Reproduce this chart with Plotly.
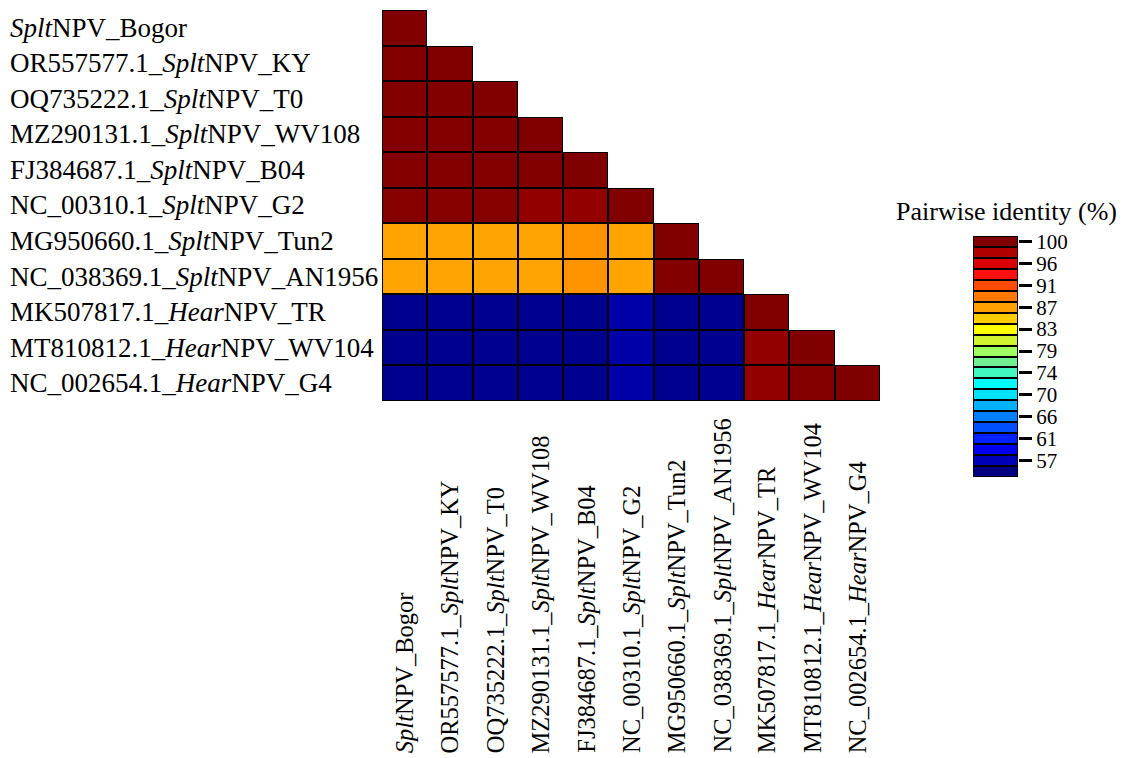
import plotly.graph_objects as go
import numpy as np

names = [
    "<i>Splt</i>NPV_Bogor",
    "OR557577.1_<i>Splt</i>NPV_KY",
    "OQ735222.1_<i>Splt</i>NPV_T0",
    "MZ290131.1_<i>Splt</i>NPV_WV108",
    "FJ384687.1_<i>Splt</i>NPV_B04",
    "NC_00310.1_<i>Splt</i>NPV_G2",
    "MG950660.1_<i>Splt</i>NPV_Tun2",
    "NC_038369.1_<i>Splt</i>NPV_AN1956",
    "MK507817.1_<i>Hear</i>NPV_TR",
    "MT810812.1_<i>Hear</i>NPV_WV104",
    "NC_002654.1_<i>Hear</i>NPV_G4",
]

# lower-triangle pairwise identity values (%), row by row
row0 = [100.0]
row1 = [99.9, 100.0]
row2 = [99.9, 99.9, 100.0]
row3 = [99.8, 99.8, 99.8, 100.0]
row4 = [99.8, 99.8, 99.8, 99.9, 100.0]
row5 = [99.7, 99.7, 99.7, 99.2, 99.2, 100.0]
row6 = [86.9, 86.9, 86.9, 86.9, 87.8, 86.9, 100.0]
row7 = [86.9, 86.9, 86.9, 86.9, 87.8, 86.9, 99.9, 100.0]
row8 = [55.4, 55.4, 55.4, 55.4, 55.4, 56.4, 55.4, 55.4, 100.0]
row9 = [55.4, 55.4, 55.4, 55.4, 55.4, 56.4, 55.4, 55.4, 99.2, 100.0]
row10 = [55.4, 55.4, 55.4, 55.4, 55.4, 56.4, 55.4, 55.4, 99.2, 99.8, 100.0]
rows = [row0, row1, row2, row3, row4, row5, row6, row7, row8, row9, row10]

# colour bar bands (bottom to top)
band_colors = ["#000080", "#0000b8", "#0000f0", "#0020ff", "#0050ff", "#0080ff",
               "#00b0ff", "#00e0ff", "#00ffff", "#40f8c0", "#70f090", "#a0ff60",
               "#d0f530", "#ffff00", "#ffcc00", "#ffa000", "#ff7800", "#ff4a00",
               "#ff1010", "#d80000", "#b00000", "#800000"]
band_min = 54.85
band_step = 2.15
tick_labels = ["57", "61", "66", "70", "74", "79", "83", "87", "91", "96", "100"]

n = len(names)
nb = len(band_colors)
band_centers = [band_min + k * band_step for k in range(nb)]
zmax = band_centers[-1]
cscale = [[k / (nb - 1), c] for k, c in enumerate(band_colors)]

Z = np.full((n, n), np.nan)
for i, r in enumerate(rows):
    for j, v in enumerate(r):
        Z[i, j] = v
mask = np.where(np.isnan(Z), np.nan, 1.0)

idx = list(range(n))
W, H = 1125, 758
font = "Liberation Serif, Times New Roman, serif"

fig = go.Figure()
fig.add_trace(go.Heatmap(z=mask, x=idx, y=idx, colorscale=[[0, "black"], [1, "black"]],
                         showscale=False, hoverinfo="skip", xaxis="x", yaxis="y"))
fig.add_trace(go.Heatmap(z=Z, x=idx, y=idx, colorscale=cscale, zmin=band_min, zmax=zmax,
                         xgap=2, ygap=2, showscale=False, xaxis="x", yaxis="y"))

# custom discrete colour bar
cb_z = [[c] for c in band_centers]
fig.add_trace(go.Heatmap(z=[[1]] * nb, x=[0], y=band_centers, colorscale=[[0, "black"], [1, "black"]],
                         showscale=False, hoverinfo="skip", xaxis="x2", yaxis="y2"))
fig.add_trace(go.Heatmap(z=cb_z, x=[0], y=band_centers, colorscale=cscale, zmin=band_min, zmax=zmax,
                         xgap=2, ygap=2, showscale=False, xaxis="x2", yaxis="y2"))

tick_vals = [band_centers[k] for k in range(1, nb, 2)]

ann = []
for i, nm in enumerate(names):
    ann.append(dict(text=nm, xref="paper", yref="y", x=8 / W, y=i, xanchor="left",
                    yanchor="middle", showarrow=False, font=dict(family=font, size=27, color="black")))
    ann.append(dict(text=nm, xref="x", yref="paper", x=i, y=3 / H, xanchor="center",
                    yanchor="bottom", textangle=-90, showarrow=False,
                    font=dict(family=font, size=24.5, color="black")))
ann.append(dict(text="Pairwise identity (%)", xref="paper", yref="paper", x=1006 / W, y=1 - 211 / H,
                xanchor="center", yanchor="middle", showarrow=False,
                font=dict(family=font, size=26, color="black")))

fig.update_layout(
    width=W, height=H, margin=dict(l=0, r=0, t=0, b=0, pad=0, autoexpand=False),
    paper_bgcolor="white", plot_bgcolor="white",
    xaxis=dict(domain=[382 / W, 880 / W], range=[-0.5, n - 0.5], showticklabels=False,
               showgrid=False, zeroline=False, ticks="", automargin=False),
    yaxis=dict(domain=[1 - 401 / H, 1 - 10 / H], range=[n - 0.5, -0.5], showticklabels=False,
               showgrid=False, zeroline=False, ticks="", automargin=False),
    xaxis2=dict(domain=[973 / W, 1018 / W], range=[-0.5, 0.5], showticklabels=False,
                showgrid=False, zeroline=False, ticks="", anchor="y2", automargin=False),
    yaxis2=dict(domain=[1 - 477 / H, 1 - 236 / H],
                range=[band_min - band_step / 2, zmax + band_step / 2],
                side="right", anchor="x2", showgrid=False, zeroline=False, automargin=False,
                ticks="outside", ticklen=13, tickwidth=3, tickcolor="black",
                tickvals=tick_vals, ticktext=tick_labels,
                tickfont=dict(family=font, size=21, color="black")),
    annotations=ann,
    showlegend=False,
)

fig.write_html("out.html")
